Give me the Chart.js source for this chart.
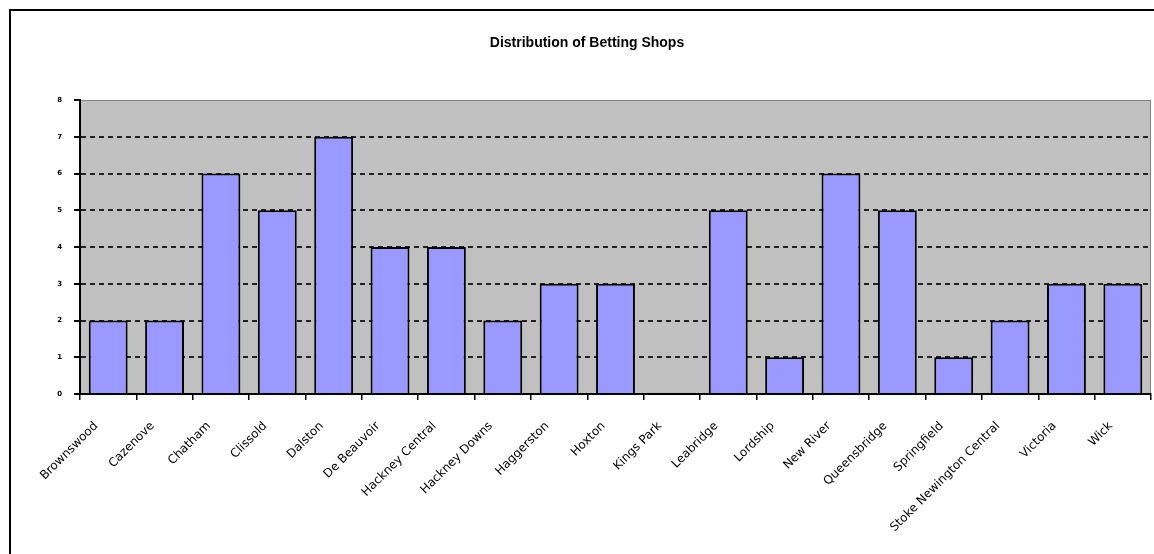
<!DOCTYPE html>
<html>
<head>
<meta charset="utf-8">
<script src="https://cdn.jsdelivr.net/npm/chart.js@4"></script>
<style>
  html, body { margin: 0; padding: 0; background: #fff; }
  #wrap { width: 1154px; height: 554px; }
</style>
</head>
<body>
<div id="wrap"><canvas id="shops"></canvas></div>
<script>
const wards = [
  "Brownswood", "Cazenove", "Chatham", "Clissold", "Dalston",
  "De Beauvoir", "Hackney Central", "Hackney Downs", "Haggerston",
  "Hoxton", "Kings Park", "Leabridge", "Lordship", "New River",
  "Queensbridge", "Springfield", "Stoke Newington Central", "Victoria", "Wick",
];
const shops = [2, 2, 6, 5, 7, 4, 4, 2, 3, 3, 0, 5, 1, 6, 5, 1, 2, 3, 3];
const yTicks = [0, 1, 2, 3, 4, 5, 6, 7, 8];
const chartTitle = "Distribution of Betting Shops";

// grey plot background, frame round the whole chart, and the heading
const frame = {
  id: "frame",
  beforeDraw(chart) {
    const { ctx, chartArea: a } = chart;
    ctx.save();
    ctx.fillStyle = "#c0c0c0";
    ctx.fillRect(a.left, a.top, a.right - a.left, a.bottom - a.top);
    ctx.strokeStyle = "#808080";
    ctx.lineWidth = 1;
    ctx.beginPath();
    ctx.moveTo(a.left, a.top + 0.5);
    ctx.lineTo(a.right - 0.5, a.top + 0.5);
    ctx.lineTo(a.right - 0.5, a.bottom);
    ctx.stroke();
    ctx.strokeStyle = "#000";
    ctx.lineWidth = 2;
    ctx.beginPath();
    ctx.moveTo(10, 600);
    ctx.lineTo(10, 10);
    ctx.lineTo(1200, 10);
    ctx.stroke();
    ctx.fillStyle = "#000";
    ctx.font = "bold 14px 'Liberation Sans', Arial, sans-serif";
    ctx.textAlign = "center";
    ctx.textBaseline = "middle";
    ctx.fillText(chartTitle, 587, 43);
    ctx.restore();
  },
};

new Chart(document.getElementById("shops"), {
  type: "bar",
  data: {
    labels: wards,
    datasets: [{
      label: "Betting shops",
      data: shops,
      backgroundColor: "#9999ff",
      borderColor: "#000",
      borderWidth: 2,
      barPercentage: 0.69,
      categoryPercentage: 1,
    }],
  },
  options: {
    responsive: true,
    maintainAspectRatio: false,
    animation: false,
    layout: { padding: { top: 100, right: 3, left: 0, bottom: 0 } },
    plugins: {
      legend: { display: false },
      title: { display: false },
      tooltip: { enabled: false },
    },
    scales: {
      x: {
        afterFit(scale) { scale.height = 160; },
        border: { color: "#000", width: 2 },
        grid: { drawOnChartArea: false, drawTicks: true, tickLength: 6, color: "#000", lineWidth: 1.5 },
        ticks: {
          minRotation: 45,
          maxRotation: 45,
          autoSkip: false,
          padding: 19,
          labelOffset: -12,
          color: "#000",
          font: { family: "'DejaVu Sans', sans-serif", size: 12 },
        },
      },
      y: {
        min: 0,
        max: 8,
        afterFit(scale) { scale.width = 80; },
        afterBuildTicks(scale) { scale.ticks = yTicks.map(v => ({ value: v })); },
        grid: {
          color: ctx => (ctx.tick && ctx.tick.value === 8 ? "rgba(0,0,0,0)" : "#222"),
          lineWidth: 2,
          tickLength: 6,
          tickColor: "#000",
          tickBorderDash: [],
        },
        border: { color: "#000", width: 2, dash: [5, 4] },
        ticks: {
          stepSize: 1,
          padding: 12,
          color: "#000",
          font: { family: "'DejaVu Sans', sans-serif", size: 7, weight: "bold" },
        },
      },
    },
  },
  plugins: [frame],
});
</script>
</body>
</html>
